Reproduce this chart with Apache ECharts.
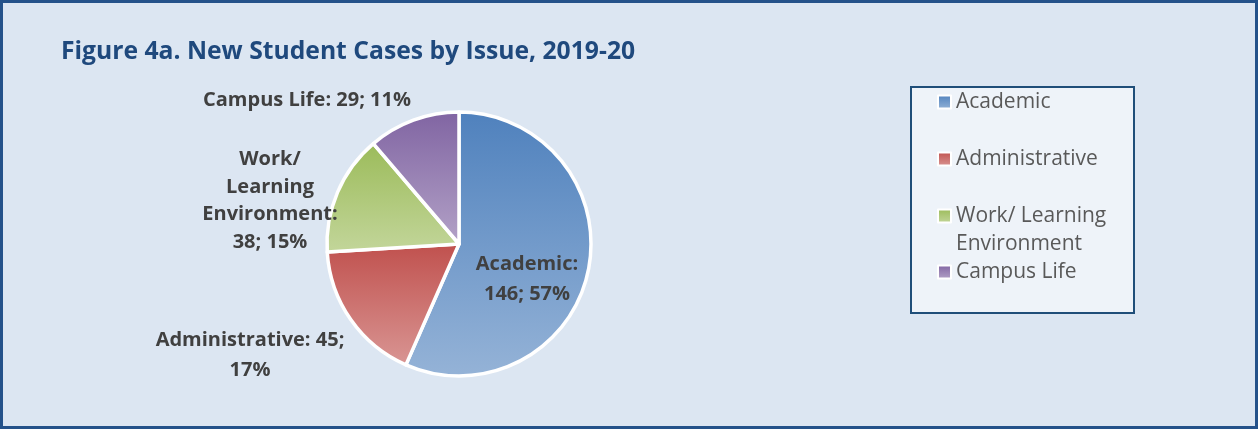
<!DOCTYPE html>
<html>
<head>
<meta charset="utf-8">
<script src="https://cdn.jsdelivr.net/npm/echarts@6/dist/echarts.min.js"></script>
<style>
html,body{margin:0;padding:0;background:#DCE6F2;}
#c{width:1258px;height:429px;}
</style>
</head>
<body>
<div id="c"></div>
<script>
const categories = ['Academic', 'Administrative', 'Work/ Learning Environment', 'Campus Life'];
const values = [146, 45, 38, 29];
const labelNames = ['Academic:', 'Administrative:', 'Work/\nLearning\nEnvironment:', 'Campus Life:'];

const topColors = ['#4F81BD', '#C0504D', '#9BBB59', '#8064A2'];
const bottomColors = ['#95B3D7', '#D99694', '#C3D69B', '#B3A2C7'];

const labelPos = [
  {x: 527, y: 279},
  {x: 250, y: 355},
  {x: 270, y: 201},
  {x: 307, y: 100}
];

const chart = echarts.init(document.getElementById('c'));

function grad(i) {
  return new echarts.graphic.LinearGradient(0, 0, 0, 1, [
    {offset: 0, color: topColors[i]},
    {offset: 1, color: bottomColors[i]}
  ]);
}

const data = categories.map((name, i) => ({
  name: name,
  value: values[i],
  itemStyle: {color: grad(i)},
  label: {lineHeight: i === 2 ? 27.5 : 30}
}));

const legendTops = [88, 145, 174, 258];
const legendText = {
  'Academic': 'Academic',
  'Administrative': 'Administrative',
  'Work/ Learning Environment': '\nWork/ Learning\nEnvironment',
  'Campus Life': 'Campus Life'
};

const legends = categories.map((name, i) => ({
  data: [name],
  orient: 'vertical',
  left: 937,
  top: legendTops[i],
  padding: 0,
  icon: 'rect',
  itemWidth: 13,
  itemHeight: 13,
  itemGap: 0,
  itemStyle: {borderColor: '#FFFFFF', borderWidth: 2},
  formatter: n => legendText[n],
  textStyle: {
    fontFamily: 'Open Sans',
    fontSize: 21,
    lineHeight: 28,
    color: '#595959'
  }
}));

const option = {
  backgroundColor: '#DCE6F2',
  animation: false,
  title: {
    text: 'Figure 4a. New Student Cases by Issue, 2019-20',
    left: 61,
    top: 39,
    padding: 0,
    textStyle: {fontFamily: 'Open Sans', fontWeight: 'bold', fontSize: 24.7, color: '#1F497D'}
  },
  graphic: [
    {type: 'rect', shape: {x: 1.5, y: 1.5, width: 1255, height: 426}, style: {fill: 'none', stroke: '#24528A', lineWidth: 3}, z: 100},
    {type: 'rect', shape: {x: 911, y: 87, width: 223, height: 226}, style: {fill: '#EEF3F9', stroke: '#1F4E79', lineWidth: 2}, z: -1}
  ],
  legend: legends,
  series: [{
    type: 'pie',
    center: [459, 244],
    radius: 132,
    startAngle: 90,
    clockwise: true,
    percentPrecision: 0,
    itemStyle: {borderColor: '#FFFFFF', borderWidth: 3.5},
    label: {
      show: true,
      position: 'outside',
      fontFamily: 'Open Sans',
      fontWeight: 'bold',
      fontSize: 20,
      lineHeight: 30,
      color: '#404040',
      align: 'center',
      formatter: p => {
        const i = p.dataIndex;
        if (i === 0) return labelNames[i] + '\n' + p.value + '; ' + p.percent + '%';
        if (i === 1) return labelNames[i] + ' ' + p.value + ';\n' + p.percent + '%';
        if (i === 2) return labelNames[i] + '\n' + p.value + '; ' + p.percent + '%';
        return labelNames[i] + ' ' + p.value + '; ' + p.percent + '%';
      }
    },
    labelLine: {show: false},
    labelLayout: p => ({
      x: labelPos[p.dataIndex].x,
      y: labelPos[p.dataIndex].y,
      align: 'center',
      verticalAlign: 'middle',
      hideOverlap: false
    }),
    emphasis: {scale: false},
    data: data
  }]
};
chart.setOption(option);
</script>
</body>
</html>
